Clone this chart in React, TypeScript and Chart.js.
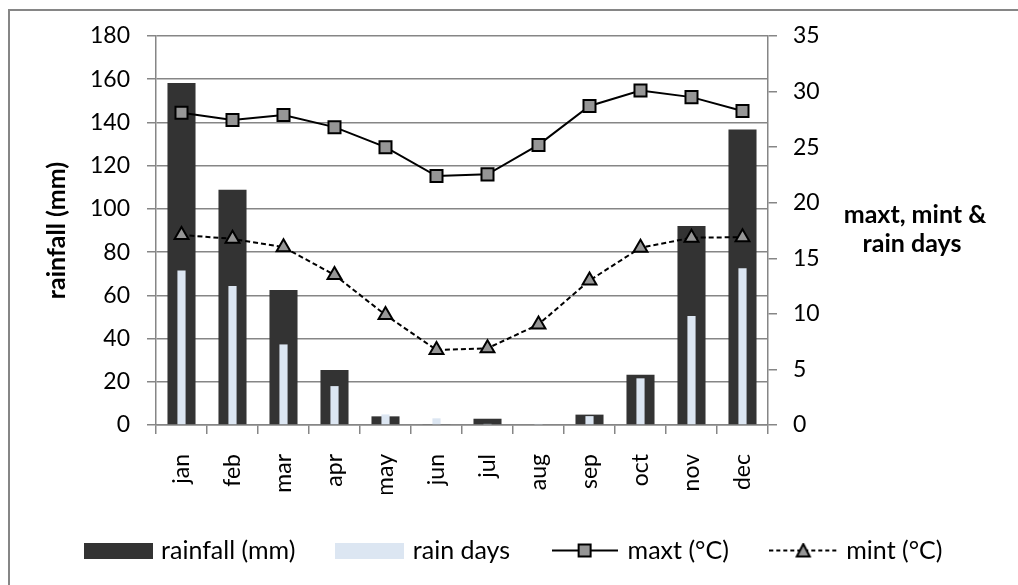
import React, { useEffect, useRef } from 'react';
import { Chart, registerables } from 'chart.js';

Chart.register(...registerables);

// ---- data ----
const months = ['jan', 'feb', 'mar', 'apr', 'may', 'jun', 'jul', 'aug', 'sep', 'oct', 'nov', 'dec'];
const rainfall = [158.2, 108.8, 62.5, 25.5, 4.0, 0.4, 2.9, 0, 4.8, 23.2, 92.1, 136.7];
const rainDays = [13.9, 12.5, 7.25, 3.5, 0.95, 0.6, 0.1, 0.1, 0.8, 4.2, 9.8, 14.1];
const maxT = [28.1, 27.45, 27.9, 26.8, 25.0, 22.4, 22.55, 25.2, 28.7, 30.1, 29.5, 28.25];
const minT = [17.1, 16.75, 16.0, 13.5, 9.9, 6.75, 6.9, 9.05, 13.0, 15.95, 16.85, 16.9];
const seriesLabels = ['rainfall (mm)', 'rain days', 'maxt (°C)', 'mint (°C)'];
const leftTitle = 'rainfall (mm)';
const rightTitle = ['maxt, mint &', 'rain days'];
const leftMax = 180;
const leftStep = 20;
const rightMax = 35;
const rightStep = 5;

// ---- styles ----
const FONT = 'Lato';
const DARK = '#333333';
const LIGHT = '#dce6f2';
const MARKER = '#969696';
const GRID = '#868686';

function makeIcon(kind: number): HTMLCanvasElement {
  const c = document.createElement('canvas');
  const h = 16;
  if (kind === 0 || kind === 1) {
    c.width = 69;
    c.height = h;
    const g = c.getContext('2d')!;
    g.fillStyle = kind === 0 ? DARK : LIGHT;
    g.fillRect(0, 0, 69, 16);
  } else if (kind === 2) {
    c.width = 66;
    c.height = h;
    const g = c.getContext('2d')!;
    g.strokeStyle = '#000';
    g.lineWidth = 2;
    g.beginPath();
    g.moveTo(0, 8);
    g.lineTo(66, 8);
    g.stroke();
    g.fillStyle = MARKER;
    g.fillRect(27, 2, 12, 12);
    g.strokeRect(27, 2, 12, 12);
  } else {
    c.width = 68;
    c.height = h;
    const g = c.getContext('2d')!;
    g.strokeStyle = '#000';
    g.lineWidth = 2;
    g.setLineDash([4, 3]);
    g.beginPath();
    g.moveTo(0, 8);
    g.lineTo(68, 8);
    g.stroke();
    g.setLineDash([]);
    g.beginPath();
    g.moveTo(34, 1.5);
    g.lineTo(40.5, 14);
    g.lineTo(27.5, 14);
    g.closePath();
    g.fillStyle = MARKER;
    g.fill();
    g.stroke();
  }
  return c;
}

const rightTitlePlugin = {
  id: 'rightTitle',
  afterDraw(chart: any) {
    const ctx = chart.ctx;
    ctx.save();
    ctx.font = `bold 25px ${FONT}`;
    ctx.fillStyle = '#000';
    ctx.textAlign = 'center';
    ctx.textBaseline = 'alphabetic';
    ctx.fillText(rightTitle[0], 915, 223);
    ctx.fillText(rightTitle[1], 912, 252);
    ctx.restore();
  },
};

export default function App() {
  const ref = useRef<HTMLCanvasElement>(null);

  useEffect(() => {
    if (!ref.current) return;
    const icons = [0, 1, 2, 3].map(makeIcon);
    const chart = new Chart(ref.current, {
      type: 'bar',
      data: {
        labels: months,
        datasets: [
          {
            type: 'bar',
            label: seriesLabels[0],
            data: rainfall,
            yAxisID: 'y',
            backgroundColor: DARK,
            borderWidth: 0,
            grouped: false,
            categoryPercentage: 1,
            barPercentage: 0.55,
            order: 4,
          },
          {
            type: 'bar',
            label: seriesLabels[1],
            data: rainDays,
            yAxisID: 'y1',
            backgroundColor: LIGHT,
            borderWidth: 0,
            grouped: false,
            categoryPercentage: 1,
            barPercentage: 0.16,
            order: 3,
          },
          {
            type: 'line',
            label: seriesLabels[2],
            data: maxT,
            yAxisID: 'y1',
            borderColor: '#000',
            borderWidth: 2,
            tension: 0,
            pointStyle: 'rect',
            pointRadius: 8.5,
            pointBackgroundColor: MARKER,
            pointBorderColor: '#000',
            pointBorderWidth: 2,
            order: 1,
          },
          {
            type: 'line',
            label: seriesLabels[3],
            data: minT,
            yAxisID: 'y1',
            borderColor: '#000',
            borderWidth: 2,
            borderDash: [5, 3],
            tension: 0,
            pointStyle: 'triangle',
            pointRadius: 8,
            pointBackgroundColor: MARKER,
            pointBorderColor: '#000',
            pointBorderWidth: 2,
            order: 2,
          },
        ] as any,
      },
      options: {
        responsive: false,
        animation: false,
        events: [],
        layout: { padding: { left: 12, right: 0, top: 36, bottom: 12 } },
        scales: {
          x: {
            type: 'category',
            offset: true,
            grid: {
              offset: true,
              drawOnChartArea: false,
              drawTicks: true,
              tickLength: 9,
              color: GRID,
              lineWidth: 1.5,
            },
            border: { display: true, color: GRID, width: 1.5 },
            ticks: {
              color: '#000',
              font: { family: FONT, size: 23 },
              minRotation: 90,
              maxRotation: 90,
              padding: 20,
              autoSkip: false,
            },
            afterFit(scale: any) {
              scale.height = 69;
            },
          },
          y: {
            position: 'left',
            min: 0,
            max: leftMax,
            grid: { color: GRID, lineWidth: 1.5, tickLength: 9, drawTicks: true },
            border: { display: true, color: GRID, width: 1.5 },
            ticks: {
              stepSize: leftStep,
              color: '#000',
              font: { family: FONT, size: 23 },
              padding: 17,
            },
            title: {
              display: true,
              text: leftTitle,
              color: '#000',
              font: { family: FONT, size: 25, weight: 'bold' },
              padding: { top: 30, bottom: 0 },
            },
            afterFit(scale: any) {
              scale.width = 144;
            },
          },
          y1: {
            position: 'right',
            min: 0,
            max: rightMax,
            grid: { drawOnChartArea: false, color: GRID, lineWidth: 1.5, tickLength: 9, drawTicks: true },
            border: { display: true, color: GRID, width: 1.5 },
            ticks: {
              stepSize: rightStep,
              color: '#000',
              font: { family: FONT, size: 23 },
              padding: 16,
            },
            afterFit(scale: any) {
              scale.width = 250;
            },
          },
        },
        plugins: {
          tooltip: { enabled: false },
          title: { display: false },
          legend: {
            display: true,
            position: 'bottom',
            labels: {
              usePointStyle: true,
              pointStyleWidth: 61,
              padding: 44,
              color: '#000',
              font: { family: FONT, size: 25 },
              generateLabels(ch: any) {
                return ch.data.datasets.map((ds: any, i: number) => ({
                  text: ds.label,
                  pointStyle: icons[i],
                  fillStyle: 'rgba(0,0,0,0)',
                  strokeStyle: 'rgba(0,0,0,0)',
                  lineWidth: 0,
                  hidden: false,
                  datasetIndex: i,
                  fontColor: '#000',
                }));
              },
            },
          },
        },
      } as any,
      plugins: [rightTitlePlugin],
    });
    return () => chart.destroy();
  }, []);

  return (
    <div style={{ position: 'fixed', left: 0, top: 0, width: 1018, height: 585, background: '#fff', overflow: 'hidden' }}>
      <div
        style={{
          position: 'absolute',
          left: 8,
          top: 9,
          width: 1200,
          height: 800,
          borderTop: `2px solid ${GRID}`,
          borderLeft: `2px solid ${GRID}`,
        }}
      />
      <canvas ref={ref} width={1018} height={585} style={{ position: 'absolute', left: 0, top: 0 }} />
    </div>
  );
}
